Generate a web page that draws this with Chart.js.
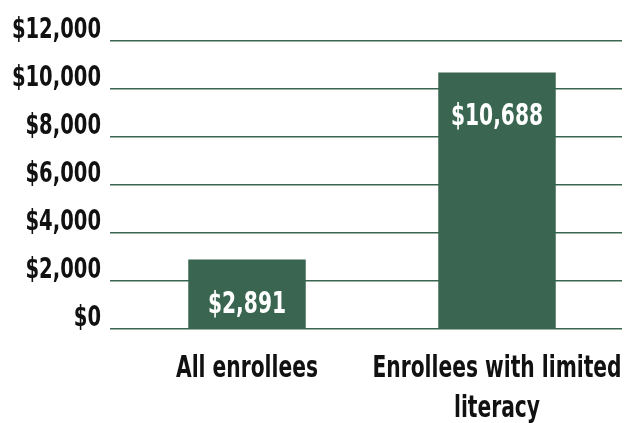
<!DOCTYPE html>
<html>
<head>
<meta charset="utf-8">
<script src="https://cdn.jsdelivr.net/npm/chart.js@4"></script>
<style>
  html, body { margin: 0; padding: 0; background: #fff; }
  #wrap { width: 624px; height: 423px; }
</style>
</head>
<body>
<div id="wrap"><canvas id="c" width="624" height="423"></canvas></div>
<script>
// data
const categories = ['All enrollees', ['Enrollees with limited', 'literacy']];
const costs = [2891, 10688];
const yTicks = [0, 2000, 4000, 6000, 8000, 10000, 12000];

const green = '#3a6651';
const fontFam = "'DejaVu Sans Condensed', 'DejaVu Sans', sans-serif";
const squeeze = 0.75; // the original type is a narrow condensed face

function money(v) {
  return '$' + v.toLocaleString('en-US');
}

// draw text squeezed horizontally, anchored at x by align
function narrowText(ctx, txt, x, y, align) {
  ctx.save();
  ctx.translate(x, y);
  ctx.scale(squeeze, 1);
  ctx.textAlign = align;
  ctx.fillText(txt, 0, 0);
  ctx.restore();
}

const textLayer = {
  id: 'textLayer',
  afterDraw(chart) {
    const ctx = chart.ctx;
    const y = chart.scales.y, x = chart.scales.x;
    ctx.save();
    ctx.textBaseline = 'alphabetic';

    // y tick labels, sitting just above their grid lines
    ctx.fillStyle = '#111';
    ctx.font = 'bold 29px ' + fontFam;
    yTicks.forEach(v => {
      narrowText(ctx, money(v), 101, y.getPixelForValue(v) - 3, 'right');
    });

    // category labels
    ctx.font = 'bold 30px ' + fontFam;
    categories.forEach((lab, i) => {
      const lines = Array.isArray(lab) ? lab : [lab];
      const cx = x.getPixelForValue(i);
      lines.forEach((ln, j) => {
        narrowText(ctx, ln, cx, chart.chartArea.bottom + 48 + j * 40, 'center');
      });
    });

    // value labels inside the top of each bar
    ctx.fillStyle = '#fff';
    chart.getDatasetMeta(0).data.forEach((bar, i) => {
      narrowText(ctx, money(costs[i]), bar.x, bar.y + 53, 'center');
    });
    ctx.restore();
  }
};

new Chart(document.getElementById('c'), {
  type: 'bar',
  data: {
    labels: categories,
    datasets: [{
      data: costs,
      backgroundColor: green,
      barPercentage: 0.47,
      categoryPercentage: 1
    }]
  },
  options: {
    responsive: false,
    animation: false,
    layout: { padding: { top: 41, right: 2, left: 0, bottom: 0 } },
    plugins: { legend: { display: false }, tooltip: { enabled: false } },
    scales: {
      y: {
        min: 0,
        max: 12000,
        afterBuildTicks(axis) { axis.ticks = yTicks.map(v => ({ value: v })); },
        afterFit(axis) { axis.width = 122; },
        border: { display: false },
        grid: { color: green, lineWidth: 1.5, tickLength: 12, drawTicks: true },
        ticks: { color: 'transparent', font: { size: 12 } }
      },
      x: {
        afterFit(axis) { axis.height = 94; },
        border: { display: false },
        grid: { display: false },
        ticks: { color: 'transparent', autoSkip: false, maxRotation: 0, font: { size: 12 } }
      }
    }
  },
  plugins: [textLayer]
});
</script>
</body>
</html>
